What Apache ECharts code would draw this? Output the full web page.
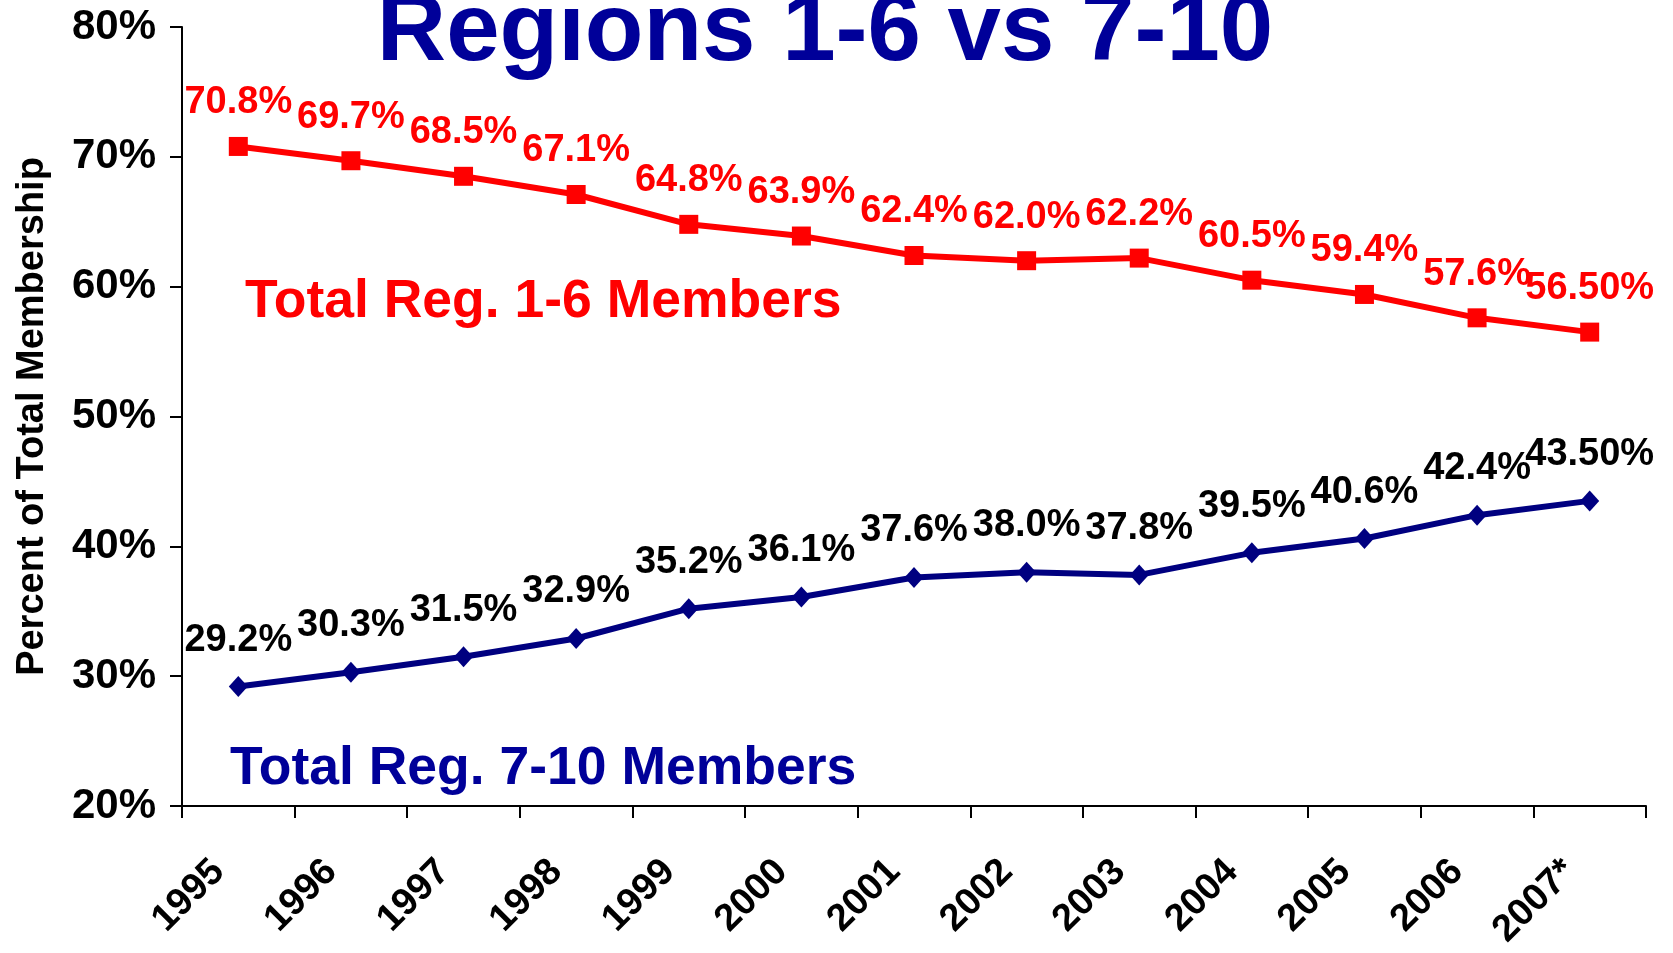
<!DOCTYPE html>
<html>
<head>
<meta charset="utf-8">
<title>Regions 1-6 vs 7-10</title>
<script src="https://cdn.jsdelivr.net/npm/echarts@6/dist/echarts.min.js"></script>
<style>
    html, body { margin: 0; padding: 0; background: #fff; }
    #chart { width: 1673px; height: 953px; }
</style>
</head>
<body>
<div id="chart"></div>
<script>
// 数据
const years = ["1995", "1996", "1997", "1998", "1999", "2000", "2001", "2002", "2003", "2004", "2005", "2006", "2007*"];
const reg16 = [70.8, 69.7, 68.5, 67.1, 64.8, 63.9, 62.4, 62.0, 62.2, 60.5, 59.4, 57.6, 56.5];
const reg710 = [29.2, 30.3, 31.5, 32.9, 35.2, 36.1, 37.6, 38.0, 37.8, 39.5, 40.6, 42.4, 43.5];
const reg16Labels = ["70.8%", "69.7%", "68.5%", "67.1%", "64.8%", "63.9%", "62.4%", "62.0%", "62.2%", "60.5%", "59.4%", "57.6%", "56.50%"];
const reg710Labels = ["29.2%", "30.3%", "31.5%", "32.9%", "35.2%", "36.1%", "37.6%", "38.0%", "37.8%", "39.5%", "40.6%", "42.4%", "43.50%"];
const yTicks = [20, 30, 40, 50, 60, 70, 80];

const font = "'Liberation Sans', Arial, sans-serif";
let myCharts = echarts.init(document.getElementById("chart"));
myCharts.setOption({
    animation: false,
    textStyle: { fontFamily: font },
    grid: {
        left: 182,
        top: 27,
        right: 27,
        bottom: 147,
    },
    graphic: [
        {
            type: "text",
            x: 825,
            y: 34,
            style: {
                text: "Regions 1-6 vs 7-10",
                font: "bold 96px " + font,
                fill: "#000099",
                align: "center",
                verticalAlign: "middle",
            },
        },
        {
            type: "text",
            x: 245,
            y: 302,
            style: {
                text: "Total Reg. 1-6 Members",
                font: "bold 53.5px " + font,
                fill: "#ff0000",
                align: "left",
                verticalAlign: "middle",
            },
        },
        {
            type: "text",
            x: 230,
            y: 769,
            style: {
                text: "Total Reg. 7-10 Members",
                font: "bold 53.5px " + font,
                fill: "#000099",
                align: "left",
                verticalAlign: "middle",
            },
        },
    ],
    xAxis: {
        type: "category",
        data: years,
        boundaryGap: true,
        axisLine: { lineStyle: { color: "#000", width: 2 } },
        axisTick: { show: true, length: 12, lineStyle: { color: "#000", width: 2 } },
        axisLabel: {
            rotate: 45,
            margin: 40,
            padding: [0, 28, 0, 0],
            color: "#000",
            fontWeight: "bold",
            fontSize: 38,
            fontFamily: font,
        },
        splitLine: { show: false },
    },
    yAxis: {
        type: "value",
        min: yTicks[0],
        max: yTicks[yTicks.length - 1],
        interval: 10,
        name: "Percent of Total Membership",
        nameLocation: "middle",
        nameRotate: 90,
        nameGap: 130,
        nameTextStyle: {
            color: "#000",
            fontWeight: "bold",
            fontSize: 38,
            fontFamily: font,
        },
        axisLine: { show: true, lineStyle: { color: "#000", width: 2 } },
        axisTick: { show: true, length: 12, lineStyle: { color: "#000", width: 2 } },
        axisLabel: {
            formatter: "{value}%",
            margin: 26,
            color: "#000",
            fontWeight: "bold",
            fontSize: 42,
            fontFamily: font,
        },
        splitLine: { show: false },
    },
    series: [
        {
            name: "Total Reg. 1-6 Members",
            type: "line",
            data: reg16,
            symbol: "rect",
            symbolSize: 19,
            lineStyle: { color: "#ff0000", width: 6 },
            itemStyle: { color: "#ff0000" },
            label: {
                show: true,
                position: "top",
                distance: 15,
                color: "#ff0000",
                fontWeight: "bold",
                fontSize: 38,
                fontFamily: font,
                formatter: function (p) {
                    return reg16Labels[p.dataIndex];
                },
            },
        },
        {
            name: "Total Reg. 7-10 Members",
            type: "line",
            data: reg710,
            symbol: "diamond",
            symbolSize: [19, 21],
            lineStyle: { color: "#000080", width: 6 },
            itemStyle: { color: "#000080" },
            label: {
                show: true,
                position: "top",
                distance: 17,
                color: "#000",
                fontWeight: "bold",
                fontSize: 38,
                fontFamily: font,
                formatter: function (p) {
                    return reg710Labels[p.dataIndex];
                },
            },
        },
    ],
});
</script>
</body>
</html>
